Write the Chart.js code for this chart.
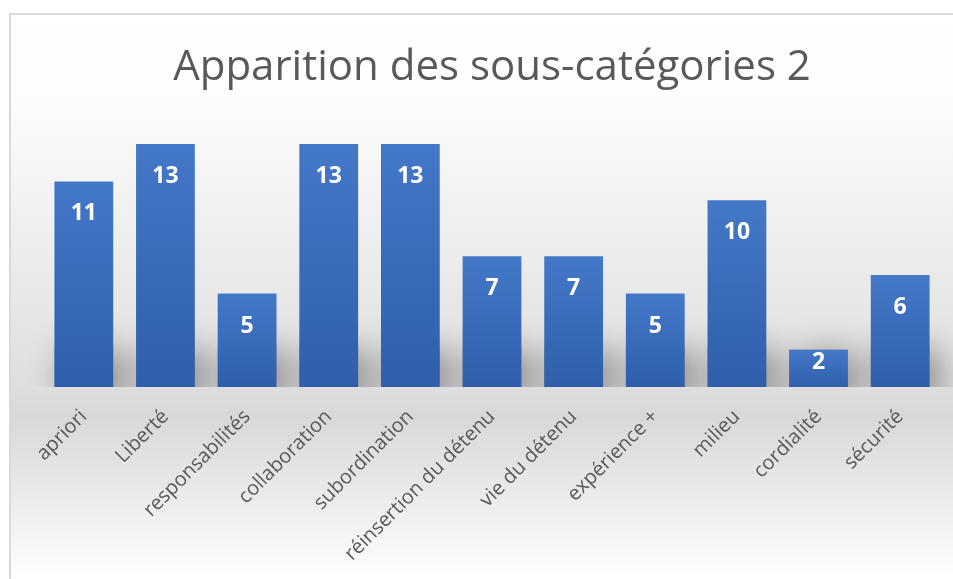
<!DOCTYPE html>
<html>
<head>
<meta charset="utf-8">
<script src="https://cdn.jsdelivr.net/npm/chart.js@4/dist/chart.umd.min.js"></script>
<style>
  html, body { margin: 0; padding: 0; background: #fff; }
  #wrap { position: relative; width: 953px; height: 579px; }
  #frame {
    position: absolute; left: 9px; top: 13px; right: 0; bottom: 0;
    border-left: 2px solid #d9d9d9; border-top: 2px solid #d9d9d9;
    pointer-events: none;
  }
</style>
</head>
<body>
<div id="wrap">
  <canvas id="chart" width="953" height="579"></canvas>
  <div id="frame"></div>
</div>
<script>
// data
const categories = ["apriori", "Liberté", "responsabilités", "collaboration", "subordination",
  "réinsertion du détenu", "vie du détenu", "expérience +", "milieu", "cordialité", "sécurité"];
const counts = [11, 13, 5, 13, 13, 7, 7, 5, 10, 2, 6];
const chartTitle = "Apparition des sous-catégories 2";

// grey background that darkens toward the floor, then fades out below
const backdrop = {
  id: "backdrop",
  beforeDraw(chart) {
    const { ctx, width, height, chartArea } = chart;
    const base = chartArea.bottom;
    const g = ctx.createLinearGradient(0, 0, 0, height);
    g.addColorStop(0, "#ffffff");
    g.addColorStop(95 / height, "#fdfdfd");
    g.addColorStop(base / height, "#dedede");
    g.addColorStop((base + 30) / height, "#d8d8d8");
    g.addColorStop(1, "#ffffff");
    ctx.save();
    ctx.fillStyle = g;
    ctx.fillRect(11, 15, width - 11, height - 15);
    ctx.restore();
  }
};

// soft shadow at the foot of each bar
const barShadow = {
  id: "barShadow",
  beforeDatasetsDraw(chart) {
    const { ctx, chartArea } = chart;
    ctx.save();
    ctx.beginPath();
    ctx.rect(chartArea.left - 30, chartArea.top, chartArea.width + 60, chartArea.bottom - chartArea.top);
    ctx.clip();
    chart.getDatasetMeta(0).data.forEach(bar => {
      const h = Math.min(bar.base - bar.y, 40);
      ctx.shadowColor = "rgba(0,0,0,0.4)";
      ctx.shadowBlur = 34;
      ctx.shadowOffsetX = 10;
      ctx.shadowOffsetY = 4;
      ctx.fillStyle = "#9a9a9a";
      ctx.fillRect(bar.x - bar.width / 2, bar.base - h, bar.width, h + 10);
    });
    ctx.restore();
  }
};

// white values inside the top of each bar
const valueLabels = {
  id: "valueLabels",
  afterDatasetsDraw(chart) {
    const { ctx } = chart;
    ctx.save();
    ctx.font = "bold 23px 'Open Sans'";
    ctx.fillStyle = "#ffffff";
    ctx.textAlign = "center";
    ctx.textBaseline = "alphabetic";
    chart.getDatasetMeta(0).data.forEach((bar, i) => {
      const y = Math.min(bar.y + 39, bar.base - 18);
      ctx.fillText(String(counts[i]), bar.x, y);
    });
    ctx.restore();
  }
};

new Chart(document.getElementById("chart"), {
  type: "bar",
  data: {
    labels: categories,
    datasets: [{
      data: counts,
      barPercentage: 0.72,
      categoryPercentage: 1,
      backgroundColor(c) {
        const chart = c.chart;
        const area = chart.chartArea;
        if (!area) return "#3a6bbb";
        const top = chart.scales.y.getPixelForValue(c.raw);
        const g = chart.ctx.createLinearGradient(0, top, 0, area.bottom);
        g.addColorStop(0, "#4478c8");
        g.addColorStop(1, "#2f5fab");
        return g;
      }
    }]
  },
  options: {
    responsive: false,
    animation: false,
    layout: { padding: { left: 43, right: 12, top: 15, bottom: 0 } },
    plugins: {
      legend: { display: false },
      tooltip: { enabled: false },
      title: {
        display: true,
        text: chartTitle,
        color: "#595959",
        font: { family: "'Open Sans'", size: 42, weight: "normal", lineHeight: 1.2 },
        padding: { top: 28, bottom: 32 }
      }
    },
    scales: {
      x: {
        grid: { display: false },
        border: { display: false },
        ticks: {
          color: "#595959",
          font: { family: "'Open Sans'", size: 20 },
          minRotation: 45,
          maxRotation: 45,
          autoSkip: false,
          padding: 10
        },
        afterFit(scale) { scale.height = 192; }
      },
      y: {
        display: false,
        min: 0,
        max: 14
      }
    }
  },
  plugins: [backdrop, barShadow, valueLabels]
});
</script>
</body>
</html>
